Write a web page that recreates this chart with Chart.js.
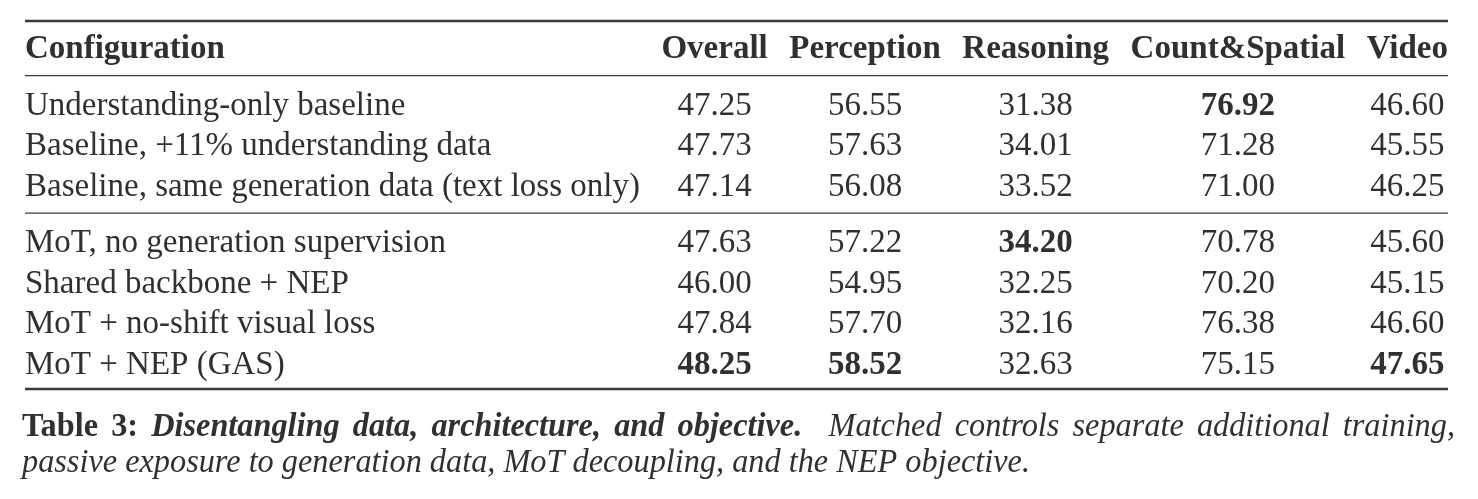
<!DOCTYPE html>
<html>
<head>
<meta charset="utf-8">
<style>
  html, body { margin: 0; padding: 0; background: #fff; }
  #wrap { width: 1478px; height: 499px; }
</style>
<script src="https://cdn.jsdelivr.net/npm/chart.js@4.4.1/dist/chart.umd.min.js"></script>
</head>
<body>
<div id="wrap"><canvas id="table3" width="1478" height="499"></canvas></div>
<script>
// table content
const configurations = [
  'Understanding-only baseline',
  'Baseline, +11% understanding data',
  'Baseline, same generation data (text loss only)',
  'MoT, no generation supervision',
  'Shared backbone + NEP',
  'MoT + no-shift visual loss',
  'MoT + NEP (GAS)'
]
const metrics = ['Overall', 'Perception', 'Reasoning', 'Count&Spatial', 'Video']
const overall = [47.25, 47.73, 47.14, 47.63, 46.00, 47.84, 48.25]
const perception = [56.55, 57.63, 56.08, 57.22, 54.95, 57.70, 58.52]
const reasoning = [31.38, 34.01, 33.52, 34.20, 32.25, 32.16, 32.63]
const countSpatial = [76.92, 71.28, 71.00, 70.78, 70.20, 76.38, 75.15]
const video = [46.60, 45.55, 46.25, 45.60, 45.15, 46.60, 47.65]
const firstGroupRows = 3   // rows above the middle rule
const captionLabel = 'Table 3:'
const captionTitle = 'Disentangling data, architecture, and objective.'
const captionLines = [
  'Matched controls separate additional training,',
  'passive exposure to generation data, MoT decoupling, and the NEP objective.'
]

// layout / style
const INK = '#303030'
const RULE = '#383838'
const FONT = '"Liberation Serif", "Times New Roman", Times, serif'
const SIZE = 33
const CAP_SIZE = 34
const PAD = { left: 25, right: 30, top: 21, bottom: 110 }
const tableWidth = 1478 - PAD.left - PAD.right
const columns = [overall, perception, reasoning, countSpatial, video]

// row positions on the y scale (one unit = one row, rules add extra space)
const rowPos = i => 1.4 + i + (i >= firstGroupRows ? 0.4 : 0)
const lastRow = rowPos(configurations.length - 1)
const rules = [
  { y: -0.65, w: 2.4 },
  { y: 0.7, w: 1.4 },
  { y: rowPos(firstGroupRows - 1) + 0.7, w: 1.4 },
  { y: lastRow + 0.65, w: 2.4 }
]

// column widths measured like a tabular would
const measure = document.createElement('canvas').getContext('2d')
function textWidth(t, bold) {
  measure.font = (bold ? 'bold ' : '') + SIZE + 'px ' + FONT
  return measure.measureText(t).width
}
const widths = [Math.max(textWidth('Configuration', true), ...configurations.map(c => textWidth(c)))]
metrics.forEach((h, j) => {
  widths.push(Math.max(textWidth(h, true), ...columns[j].map(v => textWidth(v.toFixed(2), true))))
})
const gap = (tableWidth - widths.reduce((a, b) => a + b, 0)) / metrics.length
const colLeft = []
let acc = 0
widths.forEach(w => { colLeft.push(acc); acc += w + gap })
const colCenter = j => colLeft[j] + widths[j] / 2

const datasets = [{
  label: 'Configuration',
  data: configurations.map((c, i) => ({ x: colLeft[0], y: rowPos(i) })),
  cellText: configurations,
  cellBold: configurations.map(() => false),
  align: 'left'
}]
metrics.forEach((m, j) => {
  const best = Math.max(...columns[j])
  datasets.push({
    label: m,
    data: columns[j].map((v, i) => ({ x: colCenter(j + 1), y: rowPos(i) })),
    cellText: columns[j].map(v => v.toFixed(2)),
    cellBold: columns[j].map(v => v === best),
    align: 'center'
  })
})
datasets.forEach(d => { d.pointRadius = 0; d.showLine = false })

// caption words of the first (justified) line
function captionWords() {
  const words = []
  captionLabel.split(' ').forEach(w => words.push({ t: w, f: 'bold ', gap: 1 }))
  captionTitle.split(' ').forEach(w => words.push({ t: w, f: 'italic bold ', gap: 1 }))
  words[words.length - 1].gap = 2
  captionLines[0].split(' ').forEach(w => words.push({ t: w, f: 'italic ', gap: 1 }))
  words[words.length - 1].gap = 0
  return words
}

const tablePlugin = {
  id: 'tablePlugin',
  afterDatasetsDraw: function(chart) {
    const ctx = chart.ctx
    const xs = chart.scales.x
    const ys = chart.scales.y
    const area = chart.chartArea
    const capOffset = SIZE * 0.33
    ctx.save()
    ctx.strokeStyle = RULE
    rules.forEach(r => {
      const y = ys.getPixelForValue(r.y)
      ctx.lineWidth = r.w
      ctx.beginPath()
      ctx.moveTo(area.left, y)
      ctx.lineTo(area.right, y)
      ctx.stroke()
    })
    ctx.fillStyle = INK
    ctx.textBaseline = 'alphabetic'
    // header
    const hy = ys.getPixelForValue(0) + capOffset
    ctx.font = 'bold ' + SIZE + 'px ' + FONT
    ctx.textAlign = 'left'
    ctx.fillText('Configuration', xs.getPixelForValue(colLeft[0]), hy)
    ctx.textAlign = 'center'
    metrics.forEach((m, j) => ctx.fillText(m, xs.getPixelForValue(colCenter(j + 1)), hy))
    // cells
    chart.data.datasets.forEach((ds, d) => {
      const meta = chart.getDatasetMeta(d)
      ctx.textAlign = ds.align
      meta.data.forEach((pt, i) => {
        ctx.font = (ds.cellBold[i] ? 'bold ' : '') + SIZE + 'px ' + FONT
        ctx.fillText(ds.cellText[i], pt.x, pt.y + capOffset)
      })
    })
    ctx.restore()
  },
  afterDraw: function(chart) {
    const ctx = chart.ctx
    const area = chart.chartArea
    const left = 22, right = 1455, secondEnd = 1030
    const y1 = area.bottom + 47
    const y2 = area.bottom + 83
    ctx.save()
    ctx.fillStyle = INK
    ctx.textAlign = 'left'
    ctx.textBaseline = 'alphabetic'
    // glyph compression taken from the unjustified second line
    ctx.font = 'italic ' + CAP_SIZE + 'px ' + FONT
    const sx = (secondEnd - left) / ctx.measureText(captionLines[1]).width
    const space = ctx.measureText(' ').width
    ctx.translate(left, 0)
    ctx.scale(sx, 1)
    ctx.fillText(captionLines[1], 0, y2)
    // first line justified to the table width
    const words = captionWords()
    let natural = 0, gapUnits = 0
    words.forEach(w => {
      ctx.font = w.f + CAP_SIZE + 'px ' + FONT
      w.w = ctx.measureText(w.t).width
      natural += w.w + w.gap * space
      gapUnits += w.gap
    })
    const stretch = ((right - left) / sx - natural) / gapUnits
    let x = 0
    words.forEach(w => {
      ctx.font = w.f + CAP_SIZE + 'px ' + FONT
      ctx.fillText(w.t, x, y1)
      x += w.w + w.gap * (space + stretch)
    })
    ctx.restore()
  }
}

new Chart(document.getElementById('table3').getContext('2d'), {
  type: 'scatter',
  data: { datasets: datasets },
  options: {
    responsive: false,
    animation: false,
    events: [],
    layout: { padding: PAD },
    scales: {
      x: { type: 'linear', display: false, min: 0, max: tableWidth },
      y: { type: 'linear', display: false, reverse: true, min: rules[0].y, max: rules[3].y }
    },
    plugins: {
      legend: { display: false },
      tooltip: { enabled: false }
    }
  },
  plugins: [tablePlugin]
})
</script>
</body>
</html>
